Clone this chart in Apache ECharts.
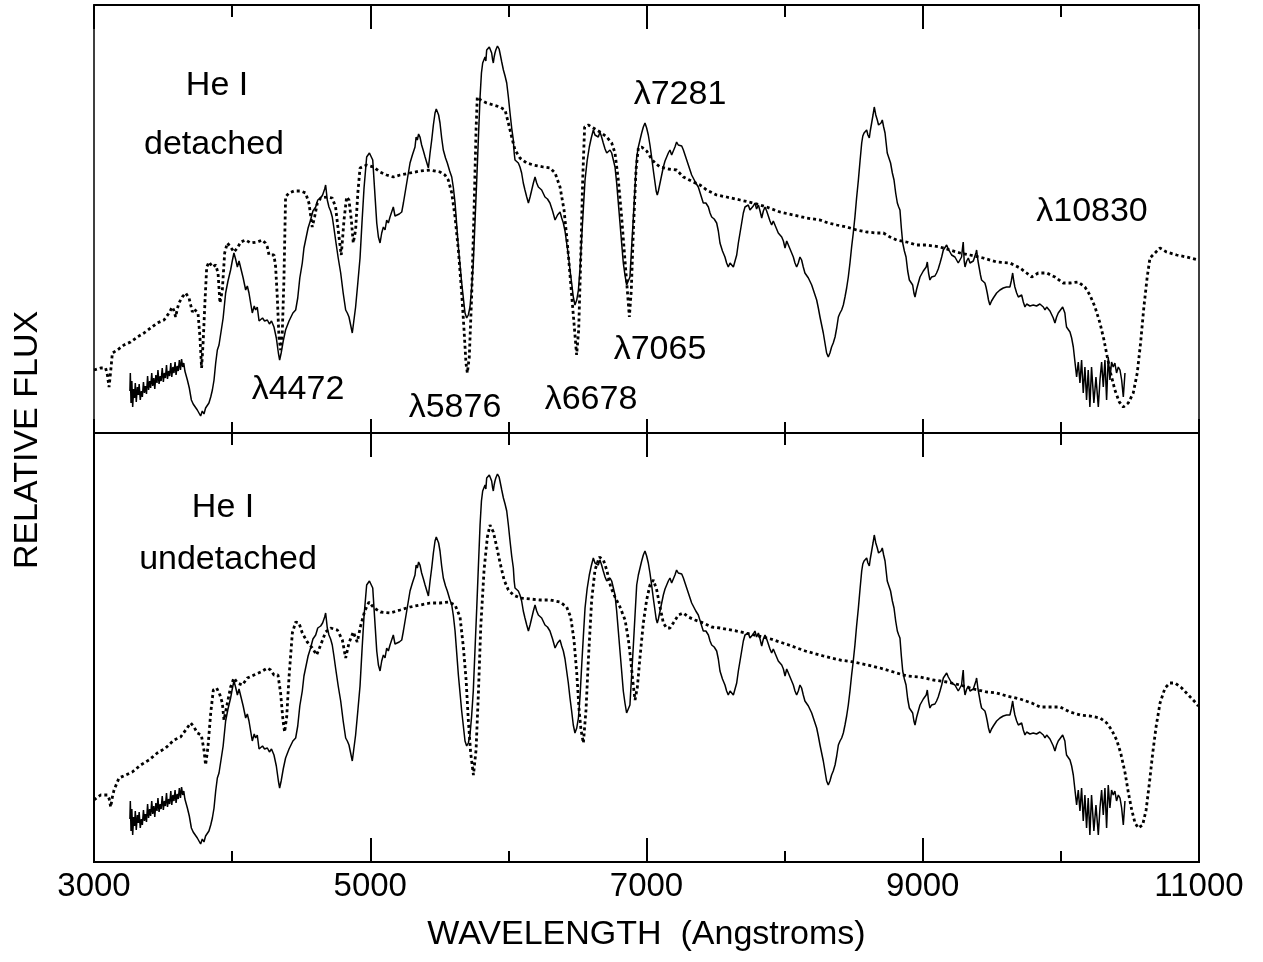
<!DOCTYPE html>
<html>
<head>
<meta charset="utf-8">
<title>He I detached / undetached</title>
<script src="https://cdn.jsdelivr.net/npm/echarts@6/dist/echarts.min.js"></script>
<style>
  html, body { margin: 0; padding: 0; background: #fff; }
  #chart { width: 1263px; height: 962px; }
</style>
</head>
<body>
<div id="chart"></div>
<script>
// observed spectrum [wavelength (A), relative flux] - same in both panels
var observed = [
  [3260,0.42],[3263,0.60],[3268,0.30],[3274,0.52],[3280,0.26],[3287,0.44],[3293,0.35],[3299,0.50],
  [3306,0.31],[3314,0.46],[3321,0.38],[3327,0.49],[3335,0.33],[3343,0.42],[3350,0.36],[3358,0.51],
  [3365,0.40],[3372,0.47],[3380,0.39],[3388,0.57],[3395,0.43],[3403,0.52],[3410,0.45],[3418,0.60],
  [3425,0.47],[3433,0.55],[3440,0.44],[3448,0.58],[3456,0.50],[3463,0.63],[3471,0.49],[3479,0.57],
  [3486,0.52],[3494,0.65],[3502,0.51],[3509,0.60],[3517,0.55],[3525,0.68],[3532,0.54],[3540,0.62],
  [3548,0.57],[3556,0.70],[3563,0.56],[3571,0.66],[3579,0.60],[3587,0.71],[3594,0.58],[3602,0.67],
  [3610,0.62],[3618,0.73],[3626,0.63],[3634,0.74],[3642,0.66],[3650,0.70],[3658,0.62],[3666,0.60],
  [3676,0.53],[3690,0.45],[3705,0.33],[3718,0.29],[3730,0.27],[3748,0.23],
  [3760,0.20],[3772,0.17],[3784,0.22],[3796,0.19],[3808,0.25],[3820,0.24],[3832,0.30],[3845,0.36],
  [3857,0.43],[3869,0.53],[3881,0.70],[3893,0.83],[3905,0.88],[3917,0.90],[3935,1.15],[3953,1.40],
  [3970,1.52],[3989,1.63],[4001,1.72],[4013,1.80],[4025,1.74],[4038,1.66],[4050,1.72],[4062,1.70],
  [4080,1.55],[4098,1.43],[4110,1.47],[4122,1.40],[4134,1.30],[4146,1.20],[4160,1.27],[4170,1.23],
  [4182,1.26],[4195,1.12],[4207,1.10],[4220,1.15],[4235,1.12],[4255,1.13],[4270,1.09],[4285,1.12],
  [4303,1.06],[4320,0.95],[4335,0.80],[4344,0.73],[4355,0.80],[4370,0.92],[4387,1.03],[4400,1.05],
  [4412,1.12],[4424,1.13],[4440,1.20],[4460,1.23],[4475,1.35],[4490,1.55],[4508,1.70],[4520,1.85],
  [4532,1.93],[4550,2.05],[4568,2.13],[4585,2.22],[4605,2.26],[4620,2.33],[4641,2.35],[4655,2.38],
  [4670,2.44],[4677,2.48],[4689,2.33],[4701,2.26],[4713,2.22],[4725,2.16],[4737,2.05],[4749,1.93],
  [4768,1.75],[4786,1.60],[4804,1.40],[4822,1.23],[4834,1.20],[4846,1.16],[4858,1.08],[4870,1.00],
  [4894,1.26],[4910,1.50],[4926,1.75],[4940,2.10],[4955,2.45],[4974,2.76],[4994,2.80],[5006,2.78],
  [5018,2.73],[5035,2.36],[5047,2.10],[5059,1.96],[5071,1.90],[5083,2.00],[5095,2.06],[5107,2.03],
  [5119,2.13],[5131,2.10],[5143,2.16],[5155,2.14],[5167,2.26],[5179,2.17],[5191,2.18],[5210,2.19],
  [5228,2.21],[5240,2.30],[5252,2.40],[5270,2.55],[5288,2.70],[5305,2.78],[5324,2.86],[5332,2.96],
  [5341,2.93],[5350,2.99],[5360,2.96],[5372,2.88],[5385,2.82],[5397,2.76],[5410,2.70],[5421,2.65],
  [5433,2.80],[5445,2.93],[5457,3.08],[5469,3.20],[5478,3.24],[5486,3.23],[5495,3.18],[5505,3.10],
  [5517,2.95],[5529,2.83],[5545,2.75],[5558,2.70],[5575,2.62],[5590,2.56],[5602,2.45],[5614,2.30],
  [5626,2.08],[5638,1.86],[5650,1.68],[5662,1.50],[5674,1.35],[5686,1.20],[5698,1.15],[5710,1.18],
  [5722,1.26],[5734,1.45],[5746,1.70],[5758,2.10],[5771,2.53],[5783,2.95],[5795,3.36],[5805,3.60],
  [5814,3.70],[5822,3.68],[5831,3.76],[5837,3.72],[5843,3.83],[5852,3.85],[5862,3.86],[5870,3.84],
  [5879,3.80],[5885,3.74],[5891,3.70],[5897,3.76],[5903,3.80],[5909,3.83],[5915,3.85],[5921,3.87],
  [5927,3.88],[5933,3.84],[5939,3.80],[5952,3.71],[5964,3.63],[5976,3.57],[5988,3.50],[6000,3.36],
  [6012,3.20],[6024,3.05],[6036,2.93],[6042,2.80],[6048,2.73],[6060,2.72],[6072,2.70],[6084,2.66],
  [6096,2.60],[6108,2.50],[6120,2.43],[6133,2.36],[6145,2.30],[6157,2.36],[6169,2.43],[6181,2.50],
  [6193,2.56],[6205,2.50],[6217,2.46],[6229,2.48],[6241,2.43],[6253,2.41],[6265,2.36],[6283,2.34],
  [6301,2.30],[6320,2.22],[6338,2.13],[6356,2.18],[6374,2.21],[6386,2.15],[6398,2.10],[6410,2.02],
  [6422,1.90],[6434,1.78],[6446,1.63],[6458,1.50],[6470,1.36],[6482,1.28],[6495,1.33],[6507,1.43],
  [6519,1.65],[6531,1.96],[6543,2.25],[6555,2.53],[6570,2.72],[6586,2.86],[6600,2.95],[6615,3.03],
  [6627,2.98],[6639,3.00],[6651,2.96],[6663,3.01],[6675,2.96],[6687,2.90],[6700,2.84],[6712,2.80],
  [6724,2.82],[6736,2.83],[6748,2.80],[6760,2.78],[6772,2.66],[6784,2.50],[6796,2.30],[6808,2.10],
  [6820,1.90],[6832,1.70],[6844,1.58],[6856,1.48],[6868,1.46],[6880,1.56],[6892,1.85],[6905,2.16],
  [6917,2.46],[6929,2.76],[6941,2.86],[6953,2.93],[6965,3.00],[6977,3.06],[6989,3.10],[7001,3.05],
  [7013,2.98],[7025,2.88],[7037,2.76],[7050,2.62],[7062,2.50],[7070,2.42],[7078,2.38],[7086,2.42],
  [7098,2.50],[7110,2.58],[7122,2.66],[7134,2.72],[7146,2.76],[7158,2.80],[7170,2.83],[7182,2.78],
  [7194,2.80],[7206,2.86],[7218,2.91],[7230,2.88],[7243,2.90],[7255,2.87],[7267,2.83],[7279,2.78],
  [7291,2.73],[7303,2.68],[7315,2.63],[7327,2.58],[7339,2.56],[7357,2.50],[7375,2.46],[7393,2.38],
  [7411,2.30],[7430,2.30],[7448,2.26],[7460,2.20],[7472,2.16],[7490,2.14],[7508,2.10],[7520,2.02],
  [7532,1.90],[7550,1.82],[7568,1.76],[7580,1.70],[7592,1.66],[7605,1.70],[7617,1.68],[7629,1.66],
  [7641,1.66],[7653,1.78],[7665,1.90],[7677,2.00],[7689,2.10],[7701,2.20],[7713,2.26],[7725,2.24],
  [7737,2.28],[7749,2.23],[7761,2.25],[7773,2.27],[7785,2.30],[7797,2.24],[7810,2.28],[7822,2.22],
  [7834,2.15],[7846,2.22],[7858,2.26],[7870,2.22],[7882,2.20],[7894,2.12],[7906,2.08],[7918,2.12],
  [7930,2.10],[7942,2.04],[7954,2.00],[7966,2.02],[7979,1.96],[7991,1.92],[8003,1.85],[8015,1.92],
  [8027,1.90],[8039,1.84],[8051,1.80],[8063,1.76],[8075,1.70],[8087,1.66],[8099,1.70],[8111,1.76],
  [8123,1.73],[8135,1.66],[8147,1.60],[8160,1.58],[8172,1.55],[8184,1.53],[8196,1.48],[8208,1.43],
  [8220,1.38],[8232,1.33],[8244,1.25],[8256,1.16],[8268,1.08],[8280,1.00],[8292,0.90],[8304,0.80],
  [8316,0.76],[8328,0.80],[8340,0.86],[8352,0.90],[8365,0.96],[8377,1.05],[8389,1.16],[8401,1.20],
  [8413,1.23],[8425,1.28],[8437,1.36],[8449,1.45],[8461,1.56],[8473,1.70],[8485,1.86],[8497,2.00],
  [8509,2.16],[8521,2.35],[8534,2.53],[8546,2.72],[8558,2.90],[8566,2.97],[8575,3.00],[8585,2.98],
  [8594,3.03],[8603,2.98],[8613,2.95],[8620,3.02],[8630,3.10],[8640,3.18],[8649,3.26],[8660,3.18],
  [8671,3.13],[8680,3.08],[8690,3.06],[8698,3.10],[8707,3.13],[8717,3.06],[8727,3.00],[8735,2.90],
  [8743,2.80],[8755,2.75],[8767,2.70],[8780,2.60],[8792,2.53],[8804,2.40],[8816,2.30],[8826,2.26],
  [8835,2.23],[8845,2.05],[8855,1.90],[8867,1.82],[8879,1.76],[8891,1.62],[8903,1.53],[8915,1.52],
  [8927,1.48],[8936,1.40],[8944,1.36],[8956,1.44],[8968,1.50],[8980,1.56],[8992,1.58],[9004,1.62],
  [9016,1.63],[9025,1.66],[9033,1.71],[9042,1.60],[9052,1.53],[9064,1.56],[9076,1.54],[9088,1.57],
  [9100,1.60],[9112,1.64],[9125,1.70],[9137,1.76],[9149,1.83],[9161,1.85],[9173,1.88],[9185,1.84],
  [9197,1.81],[9209,1.78],[9221,1.80],[9233,1.76],[9245,1.73],[9257,1.70],[9269,1.68],[9281,1.76],
  [9287,1.84],[9293,1.91],[9300,1.72],[9306,1.66],[9318,1.72],[9330,1.75],[9342,1.70],[9354,1.68],
  [9366,1.72],[9378,1.73],[9385,1.80],[9390,1.83],[9400,1.72],[9409,1.65],[9418,1.58],[9426,1.53],
  [9438,1.52],[9450,1.50],[9458,1.46],[9467,1.40],[9476,1.33],[9486,1.28],[9498,1.32],[9511,1.35],
  [9523,1.37],[9535,1.40],[9547,1.41],[9559,1.43],[9571,1.42],[9583,1.45],[9595,1.43],[9607,1.46],
  [9619,1.44],[9631,1.46],[9641,1.52],[9651,1.60],[9659,1.52],[9667,1.46],[9680,1.40],[9692,1.36],
  [9704,1.38],[9716,1.38],[9728,1.31],[9740,1.26],[9752,1.29],[9764,1.30],[9776,1.27],[9788,1.25],
  [9800,1.28],[9812,1.30],[9824,1.27],[9836,1.25],[9848,1.29],[9861,1.31],[9873,1.26],[9885,1.23],
  [9897,1.26],[9909,1.25],[9921,1.22],[9933,1.21],[9945,1.15],[9957,1.10],[9969,1.16],[9981,1.20],
  [9997,1.23],[10013,1.26],[10021,1.23],[10029,1.20],[10035,1.12],[10041,1.06],[10054,1.04],[10066,1.01],
  [10078,0.95],[10090,0.86],[10102,0.71],[10114,0.56],[10126,0.71],[10138,0.50],[10150,0.73],[10162,0.40],
  [10174,0.66],[10186,0.33],[10198,0.63],[10210,0.26],[10222,0.66],[10239,0.30],[10254,0.56],[10271,0.26],
  [10283,0.53],[10295,0.71],[10307,0.46],[10319,0.73],[10331,0.33],[10343,0.76],[10355,0.53],[10367,0.71],
  [10379,0.66],[10391,0.70],[10403,0.60],[10416,0.66],[10428,0.63],[10440,0.53],[10452,0.36],[10464,0.60]
];

// synthetic spectrum, detached He I (top panel)
var modelDetached = [
  [3000,0.63],[3048,0.65],[3084,0.65],[3097,0.58],[3109,0.46],[3121,0.62],[3133,0.80],[3169,0.83],
  [3217,0.88],[3265,0.91],[3314,0.96],[3362,1.00],[3410,1.05],[3458,1.10],[3507,1.13],[3543,1.20],
  [3567,1.26],[3580,1.22],[3591,1.16],[3603,1.24],[3615,1.30],[3639,1.36],[3664,1.40],[3688,1.35],
  [3700,1.28],[3712,1.21],[3724,1.24],[3736,1.26],[3753,1.20],[3767,0.96],[3779,0.65],[3791,0.93],
  [3804,1.33],[3816,1.66],[3833,1.71],[3857,1.66],[3881,1.68],[3898,1.60],[3905,1.45],[3912,1.30],
  [3920,1.36],[3929,1.43],[3946,1.80],[3965,1.90],[3989,1.86],[4013,1.81],[4038,1.85],[4062,1.91],
  [4098,1.93],[4134,1.90],[4182,1.91],[4219,1.93],[4240,1.90],[4255,1.86],[4267,1.78],[4303,1.78],
  [4315,1.66],[4327,1.36],[4339,0.96],[4351,0.83],[4363,1.00],[4375,1.53],[4387,2.36],[4411,2.40],
  [4448,2.42],[4496,2.42],[4532,2.40],[4556,2.30],[4568,2.18],[4580,2.06],[4597,2.16],[4617,2.30],
  [4641,2.35],[4689,2.36],[4725,2.35],[4749,2.26],[4774,1.96],[4790,1.78],[4800,1.95],[4810,2.13],
  [4829,2.36],[4846,2.33],[4863,2.13],[4877,1.90],[4894,2.03],[4910,2.40],[4926,2.65],[4974,2.68],
  [5023,2.66],[5071,2.61],[5119,2.58],[5167,2.56],[5216,2.58],[5288,2.60],[5360,2.62],[5433,2.63],
  [5505,2.61],[5541,2.58],[5565,2.53],[5590,2.40],[5614,2.16],[5638,1.83],[5662,1.40],[5679,1.03],
  [5693,0.70],[5703,0.60],[5717,0.76],[5734,1.36],[5751,2.20],[5766,3.03],[5775,3.36],[5800,3.33],
  [5843,3.30],[5891,3.28],[5939,3.26],[5976,3.23],[6000,3.10],[6024,2.96],[6048,2.83],[6084,2.75],
  [6133,2.70],[6181,2.68],[6253,2.66],[6301,2.65],[6338,2.60],[6374,2.46],[6403,2.23],[6427,1.90],
  [6451,1.50],[6475,1.10],[6494,0.78],[6509,1.03],[6523,1.70],[6538,2.53],[6552,3.06],[6579,3.08],
  [6615,3.05],[6663,3.01],[6712,2.96],[6748,2.90],[6772,2.80],[6796,2.53],[6820,2.16],[6844,1.73],
  [6861,1.43],[6876,1.16],[6890,1.43],[6905,2.03],[6924,2.63],[6941,2.85],[6965,2.86],[7001,2.82],
  [7037,2.74],[7062,2.70],[7098,2.66],[7158,2.64],[7218,2.63],[7267,2.56],[7339,2.51],[7387,2.48],
  [7436,2.43],[7508,2.38],[7580,2.36],[7677,2.33],[7773,2.30],[7870,2.26],[7966,2.21],[8063,2.18],
  [8160,2.15],[8256,2.13],[8316,2.10],[8377,2.08],[8449,2.06],[8521,2.03],[8594,2.01],[8666,2.00],
  [8715,2.00],[8763,1.96],[8811,1.93],[8883,1.91],[8956,1.88],[9028,1.88],[9125,1.86],[9197,1.83],
  [9269,1.80],[9342,1.78],[9438,1.75],[9535,1.71],[9631,1.70],[9704,1.65],[9752,1.60],[9788,1.56],
  [9836,1.60],[9897,1.60],[9957,1.56],[10017,1.50],[10066,1.50],[10126,1.51],[10174,1.46],[10210,1.38],
  [10247,1.26],[10283,1.10],[10312,0.93],[10336,0.76],[10360,0.60],[10391,0.43],[10423,0.31],[10452,0.26],
  [10488,0.30],[10524,0.40],[10553,0.60],[10577,0.90],[10601,1.26],[10625,1.56],[10645,1.75],[10681,1.80],
  [10717,1.85],[10765,1.81],[10838,1.78],[10910,1.76],[10995,1.73]
];

// synthetic spectrum, undetached He I (bottom panel)
var modelUndetached = [
  [3000,0.61],[3048,0.66],[3097,0.66],[3110,0.62],[3121,0.54],[3133,0.64],[3145,0.71],[3181,0.83],
  [3229,0.86],[3277,0.89],[3338,0.96],[3398,1.01],[3458,1.08],[3519,1.13],[3579,1.21],[3627,1.24],
  [3664,1.31],[3700,1.38],[3724,1.34],[3748,1.28],[3777,1.26],[3796,1.11],[3808,0.96],[3825,1.14],
  [3845,1.48],[3864,1.71],[3888,1.73],[3912,1.66],[3929,1.58],[3941,1.41],[3960,1.54],[3989,1.74],
  [4013,1.83],[4038,1.78],[4074,1.76],[4110,1.83],[4158,1.86],[4207,1.89],[4255,1.93],[4279,1.91],
  [4303,1.86],[4332,1.86],[4351,1.68],[4368,1.41],[4380,1.29],[4395,1.44],[4412,1.84],[4436,2.28],
  [4460,2.39],[4484,2.38],[4508,2.28],[4544,2.19],[4580,2.13],[4612,2.06],[4641,2.16],[4677,2.29],
  [4713,2.33],[4762,2.31],[4798,2.21],[4822,2.03],[4846,2.18],[4877,2.29],[4906,2.19],[4930,2.35],
  [4960,2.50],[4991,2.59],[5027,2.53],[5075,2.49],[5143,2.48],[5216,2.51],[5288,2.54],[5361,2.56],
  [5433,2.58],[5505,2.58],[5566,2.59],[5614,2.56],[5650,2.44],[5674,2.14],[5694,1.81],[5710,1.41],
  [5727,1.08],[5747,0.86],[5766,1.11],[5783,1.68],[5800,2.34],[5824,2.91],[5848,3.24],[5867,3.36],
  [5891,3.29],[5916,3.14],[5940,2.98],[5969,2.81],[6000,2.71],[6036,2.66],[6084,2.63],[6157,2.62],
  [6229,2.61],[6302,2.61],[6374,2.59],[6422,2.54],[6451,2.44],[6475,2.21],[6495,1.88],[6512,1.51],
  [6526,1.31],[6543,1.18],[6562,1.51],[6579,2.01],[6603,2.61],[6627,2.91],[6659,3.04],[6688,3.01],
  [6712,2.91],[6741,2.74],[6772,2.64],[6808,2.54],[6845,2.41],[6869,2.21],[6886,2.01],[6900,1.81],
  [6917,1.61],[6934,1.74],[6953,2.04],[6977,2.38],[7001,2.61],[7025,2.76],[7050,2.81],[7074,2.71],
  [7098,2.54],[7122,2.38],[7146,2.33],[7170,2.33],[7194,2.38],[7231,2.46],[7267,2.48],[7303,2.44],
  [7351,2.41],[7412,2.38],[7472,2.34],[7532,2.33],[7650,2.30],[7780,2.26],[7900,2.22],[8030,2.16],
  [8150,2.10],[8280,2.05],[8400,2.01],[8500,1.99],[8600,1.96],[8691,1.93],[8788,1.89],[8884,1.85],
  [8981,1.84],[9077,1.81],[9174,1.79],[9270,1.76],[9367,1.72],[9463,1.69],[9536,1.68],[9608,1.65],
  [9704,1.62],[9789,1.58],[9849,1.54],[9922,1.54],[9994,1.54],[10066,1.49],[10139,1.46],[10211,1.45],
  [10284,1.43],[10332,1.38],[10368,1.31],[10404,1.21],[10433,1.08],[10465,0.88],[10489,0.68],[10513,0.51],
  [10537,0.38],[10561,0.33],[10592,0.36],[10617,0.51],[10641,0.78],[10665,1.08],[10689,1.34],[10718,1.58],
  [10754,1.73],[10790,1.78],[10827,1.78],[10875,1.73],[10923,1.66],[10971,1.59],[10995,1.55]
];

var panelLabels = [['He I', 'detached'], ['He I', 'undetached']];
var lineLabels = ['\u03bb4472', '\u03bb5876', '\u03bb6678', '\u03bb7065', '\u03bb7281', '\u03bb10830'];

var FONT = '"Liberation Sans", Arial, Helvetica, sans-serif';

function wlAxis(grid, pos, majorLen, minorLen, labels) {
    return {
        type: 'value', gridIndex: grid, position: pos,
        min: 3000, max: 11000, interval: 2000,
        axisLine: { show: true, onZero: false, lineStyle: { color: '#000', width: 2 } },
        axisTick: { show: true, inside: true, length: majorLen, lineStyle: { color: '#000', width: 2 } },
        minorTick: { show: true, splitNumber: 2, length: minorLen, lineStyle: { color: '#000', width: 2 } },
        axisLabel: { show: labels, margin: 8, color: '#000', fontSize: 33, fontFamily: FONT,
                     formatter: function (v) { return String(v); } },
        splitLine: { show: false },
        minorSplitLine: { show: false }
    };
}

function fluxAxis(grid, lo, hi) {
    return {
        type: 'value', gridIndex: grid, min: lo, max: hi,
        axisLine: { show: false }, axisTick: { show: false },
        axisLabel: { show: false }, splitLine: { show: false }
    };
}

function txt(s, x, y) {
    return { type: 'text', x: x, y: y, silent: true,
        style: { text: s, fill: '#000', fontSize: 34, fontFamily: FONT, align: 'center', verticalAlign: 'middle' } };
}

var xa3 = wlAxis(1, 'bottom', 24, 11, true);
xa3.name = 'WAVELENGTH  (Angstroms)';
xa3.nameLocation = 'middle';
xa3.nameGap = 56;
xa3.nameTextStyle = { color: '#000', fontSize: 34, fontFamily: FONT };

var chart = echarts.init(document.getElementById('chart'));
var option = {
    animation: false,
    backgroundColor: '#fff',
    grid: [
        { left: 94, top: 5, width: 1105, height: 428, show: true, borderColor: '#000', borderWidth: 1.5 },
        { left: 94, top: 433, width: 1105, height: 429, show: true, borderColor: '#000', borderWidth: 2 }
    ],
    xAxis: [
        wlAxis(0, 'top', 24, 12, false),
        wlAxis(0, 'bottom', 14, 11, false),
        wlAxis(1, 'top', 24, 12, false),
        xa3
    ],
    yAxis: [fluxAxis(0, 0, 4.28), fluxAxis(1, -0.01, 4.28)],
    series: [
        { name: 'observed', type: 'line', xAxisIndex: 1, yAxisIndex: 0, data: observed,
          symbol: 'none', lineStyle: { color: '#000', width: 1.5 } },
        { name: 'detached', type: 'line', xAxisIndex: 1, yAxisIndex: 0, data: modelDetached,
          symbol: 'none', lineStyle: { color: '#000', width: 2.8, type: [3, 3] } },
        { name: 'observed', type: 'line', xAxisIndex: 3, yAxisIndex: 1, data: observed,
          symbol: 'none', lineStyle: { color: '#000', width: 1.5 } },
        { name: 'undetached', type: 'line', xAxisIndex: 3, yAxisIndex: 1, data: modelUndetached,
          symbol: 'none', lineStyle: { color: '#000', width: 2.8, type: [3, 3] } }
    ],
    graphic: [
        txt(panelLabels[0][0], 217, 86),
        txt(panelLabels[0][1], 214, 145),
        txt(panelLabels[1][0], 223, 508),
        txt(panelLabels[1][1], 228, 560),
        txt(lineLabels[0], 298, 390),
        txt(lineLabels[1], 455, 408),
        txt(lineLabels[2], 591, 400),
        txt(lineLabels[3], 660, 350),
        txt(lineLabels[4], 680, 95),
        txt(lineLabels[5], 1092, 212),
        { type: 'text', x: 28, y: 440, rotation: Math.PI / 2, silent: true,
          style: { text: 'RELATIVE FLUX', fill: '#000', fontSize: 34, fontFamily: FONT, align: 'center', verticalAlign: 'middle' } }
    ]
};
chart.setOption(option);
</script>
</body>
</html>
